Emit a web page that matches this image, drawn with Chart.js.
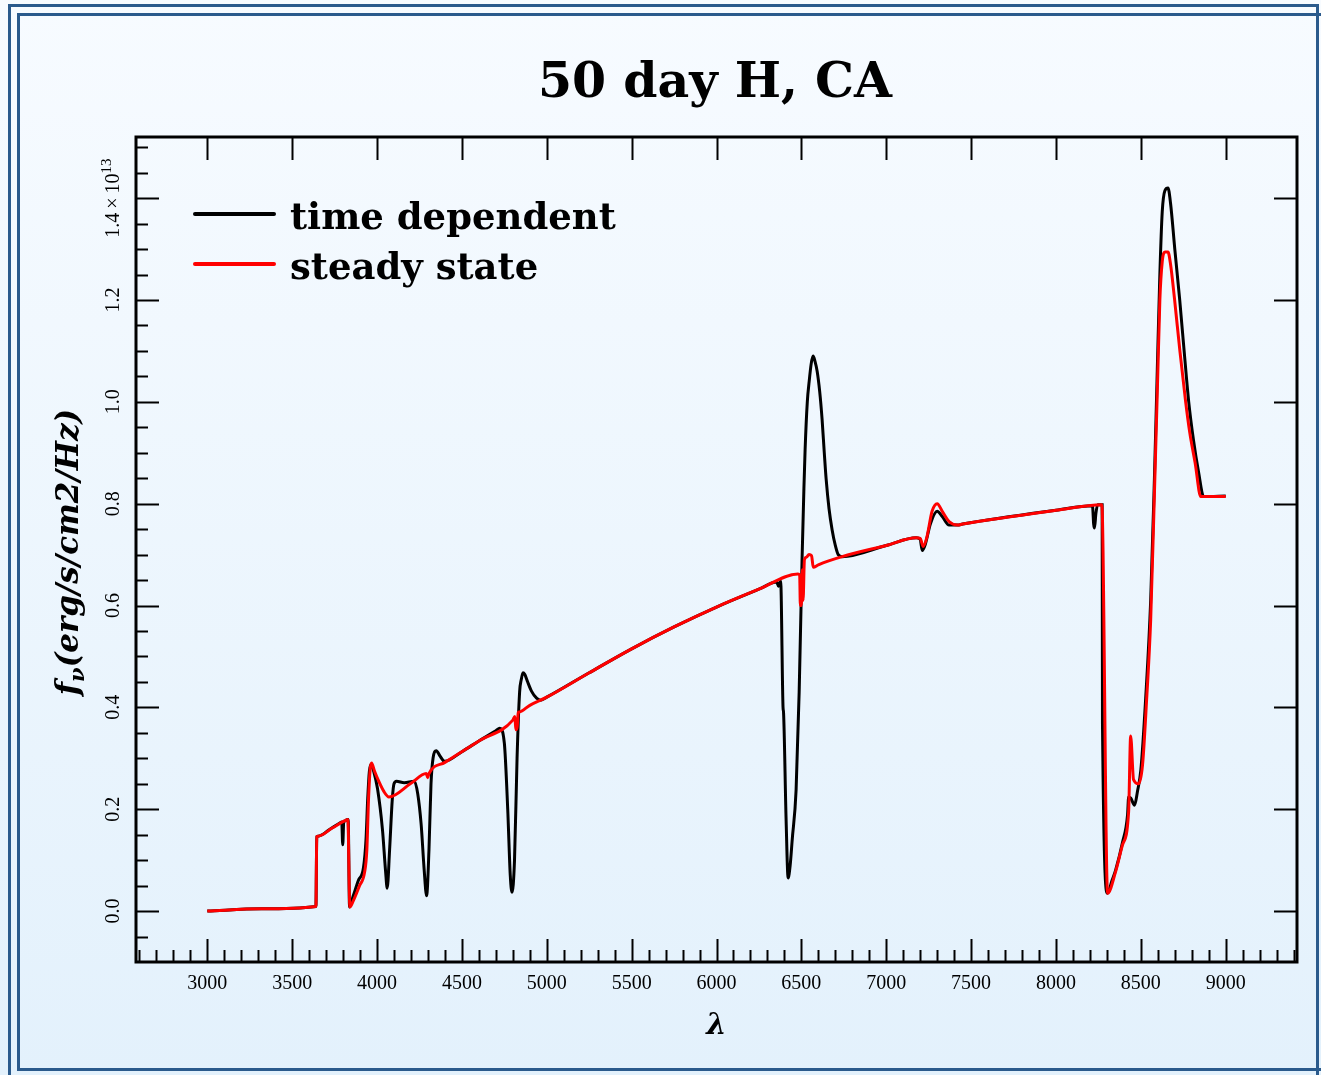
<!DOCTYPE html>
<html>
<head>
<meta charset="utf-8">
<title>50 day H, CA</title>
<script src="https://cdn.jsdelivr.net/npm/chart.js@4.4.0/dist/chart.umd.min.js"></script>
<style>
  html, body {
    margin: 0;
    padding: 0;
    width: 1321px;
    height: 1075px;
    overflow: hidden;
    background: linear-gradient(#f7fbff, #e3f1fc);
  }
  .outer {
    position: absolute;
    left: 8px; top: 4px;
    width: 1305px; height: 1100px;
    border: 3px solid #2a5a8c;
  }
  .inner {
    position: absolute;
    left: 17px; top: 13px;
    width: 1320px; height: 1052px;
    border: 3px solid #2a5a8c;
  }
  #grafico { position: absolute; left: 0; top: 0; }
</style>
</head>
<body>
<div class="outer"></div>
<div class="inner"></div>
<canvas id="grafico" width="1321" height="1075"></canvas>
<script>
// time dependent (black)
const lambdaTD = [3000, 3320, 3640, 3645, 3652, 3720, 3785, 3792, 3798, 3804, 3812, 3826, 3830, 3838, 3860, 3890, 3920, 3935, 3945, 3955, 3965, 3980, 4003, 4032, 4050, 4060, 4074, 4090, 4100, 4115, 4160, 4220, 4240, 4260, 4278, 4292, 4306, 4318, 4330, 4349, 4370, 4398, 4500, 4600, 4700, 4723, 4750, 4770, 4785, 4795, 4810, 4825, 4840, 4850, 4860, 4870, 4885, 4910, 4940, 4965, 5000, 5250, 5500, 5750, 6000, 6250, 6355, 6365, 6378, 6392, 6395, 6410, 6422, 6434, 6446, 6469, 6487, 6504, 6515, 6522, 6535, 6546, 6558, 6569, 6580, 6593, 6608, 6622, 6635, 6646, 6663, 6681, 6700, 6717, 6740, 7000, 7177, 7200, 7212, 7230, 7260, 7300, 7330, 7370, 7420, 7450, 8000, 8215, 8222, 8227, 8235, 8245, 8272, 8274, 8304, 8330, 8351, 8392, 8422, 8428, 8440, 8463, 8480, 8500, 8528, 8558, 8580, 8597, 8612, 8626, 8642, 8660, 8675, 8700, 8729, 8755, 8782, 8810, 8840, 8870, 9000];
const fluxTD = [0.0, 0.0045, 0.009, 0.146, 0.147, 0.16, 0.174, 0.175, 0.13, 0.176, 0.177, 0.18, 0.18, 0.008, 0.03, 0.06, 0.085, 0.14, 0.22, 0.275, 0.288, 0.275, 0.24, 0.16, 0.08, 0.045, 0.12, 0.22, 0.25, 0.255, 0.252, 0.255, 0.23, 0.17, 0.08, 0.03, 0.12, 0.25, 0.3, 0.315, 0.305, 0.294, 0.313, 0.334, 0.354, 0.359, 0.33, 0.2, 0.07, 0.037, 0.1, 0.3, 0.43, 0.455, 0.468, 0.465, 0.452, 0.432, 0.418, 0.414, 0.42, 0.468, 0.515, 0.558, 0.597, 0.632, 0.646, 0.638, 0.648, 0.4, 0.39, 0.18, 0.065, 0.09, 0.14, 0.238, 0.43, 0.69, 0.83, 0.906, 1.0, 1.04, 1.075, 1.09, 1.08, 1.06, 1.02, 0.966, 0.9, 0.848, 0.79, 0.749, 0.718, 0.7, 0.696, 0.718, 0.733, 0.73, 0.708, 0.72, 0.76, 0.785, 0.775, 0.758, 0.758, 0.76, 0.787, 0.796, 0.76, 0.752, 0.78, 0.798, 0.798, 0.366, 0.035, 0.06, 0.08, 0.135, 0.19, 0.224, 0.222, 0.208, 0.235, 0.277, 0.415, 0.61, 0.85, 1.064, 1.25, 1.373, 1.415, 1.42, 1.39, 1.3, 1.2, 1.1, 1.0, 0.925, 0.862, 0.814, 0.815];

// steady state (red)
const lambdaSS = [3000, 3320, 3640, 3645, 3652, 3736, 3820, 3828, 3840, 3860, 3897, 3926, 3940, 3950, 3960, 3968, 3985, 4010, 4040, 4070, 4200, 4290, 4299, 4306, 4400, 4600, 4800, 4812, 4818, 4826, 4832, 4838, 4900, 5000, 5250, 5500, 5750, 6000, 6250, 6480, 6490, 6494, 6500, 6505, 6510, 6518, 6530, 6545, 6560, 6570, 6600, 6740, 7000, 7177, 7200, 7218, 7240, 7270, 7300, 7330, 7370, 7420, 7450, 8000, 8270, 8304, 8351, 8392, 8428, 8440, 8457, 8487, 8510, 8534, 8558, 8580, 8597, 8612, 8626, 8642, 8660, 8675, 8699, 8730, 8764, 8788, 8820, 8853, 9000];
const fluxSS = [0.0, 0.0045, 0.009, 0.146, 0.147, 0.163, 0.179, 0.18, 0.008, 0.02, 0.05, 0.075, 0.12, 0.22, 0.28, 0.291, 0.275, 0.255, 0.235, 0.224, 0.251, 0.27, 0.262, 0.27, 0.292, 0.334, 0.375, 0.382, 0.356, 0.362, 0.39, 0.391, 0.404, 0.42, 0.468, 0.515, 0.558, 0.597, 0.632, 0.662, 0.66, 0.6, 0.6, 0.67, 0.61, 0.69, 0.695, 0.7, 0.698, 0.675, 0.68, 0.696, 0.718, 0.733, 0.732, 0.716, 0.735, 0.785, 0.8, 0.785, 0.765, 0.758, 0.76, 0.787, 0.798, 0.035, 0.077, 0.13, 0.195, 0.344, 0.258, 0.25, 0.287, 0.415, 0.572, 0.82, 1.02, 1.2, 1.275, 1.294, 1.294, 1.27, 1.2, 1.1, 1.0, 0.94, 0.88, 0.814, 0.814];

const xTickLabels = [3000, 3500, 4000, 4500, 5000, 5500, 6000, 6500, 7000, 7500, 8000, 8500, 9000];
const yTickLabels = ["0.0", "0.2", "0.4", "0.6", "0.8", "1.0", "1.2", "1.4"];

function pontos(xs, ys) {
    return xs.map((v, i) => ({ x: v, y: ys[i] }));
}

const serif = '"DejaVu Serif", serif';
const tickFont = '20px "Liberation Serif", serif';

// frame, inward ticks, labels, title and legend
const moldura = {
    id: "moldura",
    afterDraw(chart) {
        const { ctx, chartArea: a, scales: { x, y } } = chart;
        ctx.save();
        ctx.strokeStyle = "#000";
        ctx.fillStyle = "#000";

        const seg = (x1, y1, x2, y2) => {
            ctx.beginPath();
            ctx.moveTo(x1, y1);
            ctx.lineTo(x2, y2);
            ctx.stroke();
        };

        // bottom and left: major + minor, top and right: major only
        ctx.lineWidth = 2;
        for (let v = 2600; v <= 9400; v += 100) {
            const px = Math.round(x.getPixelForValue(v)) + 0.5;
            const major = v % 500 === 0;
            seg(px, a.bottom, px, a.bottom - (major ? 23 : 12));
            if (major) seg(px, a.top, px, a.top + 23);
        }
        for (let k = -1; k <= 30; k++) {
            const py = Math.round(y.getPixelForValue(k * 0.05)) + 0.5;
            const major = k % 4 === 0;
            seg(a.left, py, a.left + (major ? 23 : 12), py);
            if (major) seg(a.right, py, a.right - 23, py);
        }

        ctx.lineWidth = 3;
        ctx.strokeRect(a.left, a.top, a.right - a.left, a.bottom - a.top);

        // x tick labels
        ctx.font = tickFont;
        ctx.textAlign = "center";
        ctx.textBaseline = "alphabetic";
        xTickLabels.forEach(v => {
            ctx.fillText(String(v), x.getPixelForValue(v), a.bottom + 27);
        });

        // y tick labels (rotated)
        yTickLabels.forEach((t, i) => {
            const py = y.getPixelForValue(parseFloat(t));
            ctx.save();
            ctx.translate(119, py);
            ctx.rotate(-Math.PI / 2);
            ctx.font = tickFont;
            if (i === yTickLabels.length - 1) {
                const base = t + "\u2009\u00d7\u200910";
                const wb = ctx.measureText(base).width;
                ctx.font = '15px "Liberation Serif", serif';
                const we = ctx.measureText("13").width;
                const x0 = -(wb + we) / 2;
                ctx.textAlign = "left";
                ctx.font = tickFont;
                ctx.fillText(base, x0, 0);
                ctx.font = '15px "Liberation Serif", serif';
                ctx.fillText("13", x0 + wb, -8);
            } else {
                ctx.textAlign = "center";
                ctx.fillText(t, 0, 0);
            }
            ctx.restore();
        });

        // axis titles
        ctx.textAlign = "center";
        ctx.font = "bold italic 29px " + serif;
        ctx.fillText("\u03bb", (a.left + a.right) / 2, 1034);

        ctx.save();
        ctx.translate(78, 552);
        ctx.rotate(-Math.PI / 2);
        const fBig = "bold italic 31px " + serif;
        const fSub = "bold italic 21px " + serif;
        ctx.font = fBig;
        const w1 = ctx.measureText("f").width;
        const w3 = ctx.measureText("(erg/s/cm2/Hz)").width;
        ctx.font = fSub;
        const w2 = ctx.measureText("\u03bd").width;
        let cx = -(w1 + w2 + w3) / 2;
        ctx.textAlign = "left";
        ctx.font = fBig;
        ctx.fillText("f", cx, 0);
        cx += w1;
        ctx.font = fSub;
        ctx.fillText("\u03bd", cx, 6);
        cx += w2;
        ctx.font = fBig;
        ctx.fillText("(erg/s/cm2/Hz)", cx, 0);
        ctx.restore();

        // title
        ctx.textAlign = "center";
        ctx.font = "bold 49px " + serif;
        ctx.fillText("50 day H, CA", 715, 97);

        // legend
        ctx.lineCap = "round";
        ctx.lineWidth = 4;
        ctx.strokeStyle = "#000";
        seg(195, 214, 274, 214);
        ctx.strokeStyle = "#ff0000";
        seg(195, 264, 274, 264);
        ctx.textAlign = "left";
        ctx.font = "bold 37px " + serif;
        ctx.fillText("time dependent", 290, 229);
        ctx.fillText("steady state", 290, 279);

        ctx.restore();
    }
};

new Chart(document.getElementById("grafico"), {
    type: "line",
    data: {
        datasets: [
            {
                label: "steady state",
                data: pontos(lambdaSS, fluxSS),
                borderColor: "#ff0000",
                borderWidth: 3,
                pointRadius: 0,
                cubicInterpolationMode: "monotone",
                order: 1
            },
            {
                label: "time dependent",
                data: pontos(lambdaTD, fluxTD),
                borderColor: "#000000",
                borderWidth: 3,
                pointRadius: 0,
                cubicInterpolationMode: "monotone",
                order: 2
            }
        ]
    },
    options: {
        responsive: false,
        animation: false,
        devicePixelRatio: 1,
        layout: { padding: { left: 136, top: 137, right: 24, bottom: 113 } },
        plugins: {
            legend: { display: false },
            title: { display: false },
            tooltip: { enabled: false }
        },
        scales: {
            x: { type: "linear", min: 2580, max: 9420, display: false },
            y: { type: "linear", min: -0.1, max: 1.52, display: false }
        }
    },
    plugins: [moldura]
});
</script>
</body>
</html>
